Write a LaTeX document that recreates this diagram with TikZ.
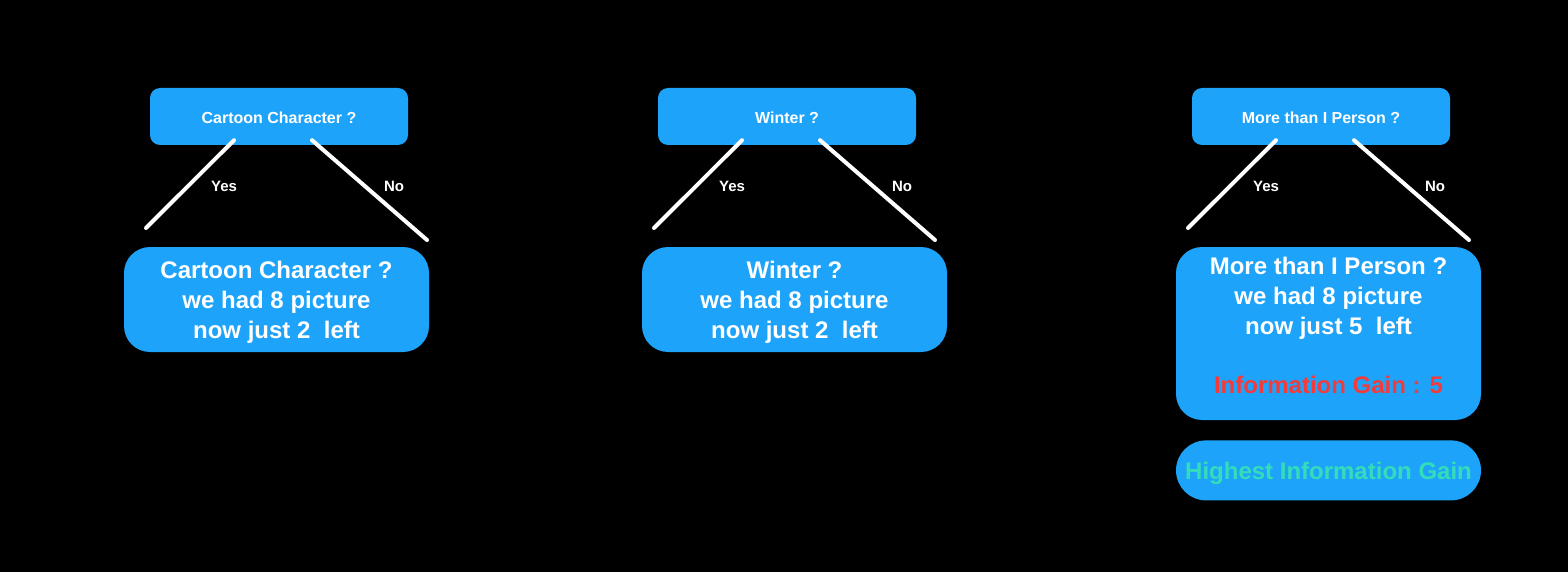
\documentclass[tikz,border=0pt]{standalone}
\usepackage{fontspec}
\setmainfont{Liberation Sans}
\usetikzlibrary{positioning,calc}
\definecolor{tblue}{HTML}{1EA3FA}
\definecolor{tred}{HTML}{F43B3B}
\definecolor{tmint}{HTML}{34DDBA}
\tikzset{
  ask/.style={fill=tblue,text=white,rounded corners=10pt,minimum width=258pt,minimum height=57pt,inner sep=0pt,text height=14pt,text depth=0pt,font=\bfseries\fontsize{16}{19}\selectfont},
  tally/.style={fill=tblue,text=white,rounded corners=26pt,minimum width=305pt,minimum height=105pt,inner sep=0pt,align=center,font=\bfseries\fontsize{24}{30}\selectfont},
  best/.style={fill=tblue,text=tmint,rounded corners=30pt,minimum width=305pt,minimum height=60pt,inner sep=0pt,text height=17.5pt,text depth=0pt,font=\bfseries\fontsize{24}{30}\selectfont},
  branch/.style={draw=white,line width=4pt,line cap=round},
  lbl/.style={text=white,font=\bfseries\fontsize{15}{18}\selectfont},
}

\begin{document}
\begin{tikzpicture}[x=1pt,y=-1pt]
\fill[black] (0,0) rectangle (1568,572);
\useasboundingbox (0,0) rectangle (1568,572);
% cartoon
\node[ask] (q1) at (279,116.5) {Cartoon Character ?};
\node[tally] (t1) at (276.5,299.5) {\rule{0pt}{23.5pt}Cartoon Character ?\\we had 8 picture\\now just 2~ left};
\coordinate (y1) at (146,228); \coordinate (n1) at (427,240);
\draw[branch] ($(q1.south)+(-45,-5)$) -- (y1); \draw[branch] ($(q1.south)+(33,-5)$) -- (n1);
\node[lbl] (yes1) at (224,186) {Yes}; \node[lbl] (no1) at (394,186) {No};
% winter
\node[ask] (q2) at (787,116.5) {Winter ?};
\node[tally] (t2) at (794.5,299.5) {\rule{0pt}{23.5pt}Winter ?\\we had 8 picture\\now just 2~ left};
\coordinate (y2) at (654,228); \coordinate (n2) at (935,240);
\draw[branch] ($(q2.south)+(-45,-5)$) -- (y2); \draw[branch] ($(q2.south)+(33,-5)$) -- (n2);
\node[lbl] (yes2) at (732,186) {Yes}; \node[lbl] (no2) at (902,186) {No};
% more than one person
\node[ask] (q3) at (1321,116.5) {More than I Person ?};
\node[tally, minimum height=173pt] (t3) at (1328.5,333.5) {More than I Person ?\\we had 8 picture\\now just 5~ left\\[29pt]\textcolor{tred}{Information Gain : 5}\rule[-16pt]{0pt}{16pt}};
\coordinate (y3) at (1188,228); \coordinate (n3) at (1469,240);
\draw[branch] ($(q3.south)+(-45,-5)$) -- (y3); \draw[branch] ($(q3.south)+(33,-5)$) -- (n3);
\node[lbl] (yes3) at (1266,186) {Yes}; \node[lbl] (no3) at (1435,186) {No};
\node[best, below=20pt of t3] (hi) {Highest Information Gain};
\end{tikzpicture}
\end{document}
